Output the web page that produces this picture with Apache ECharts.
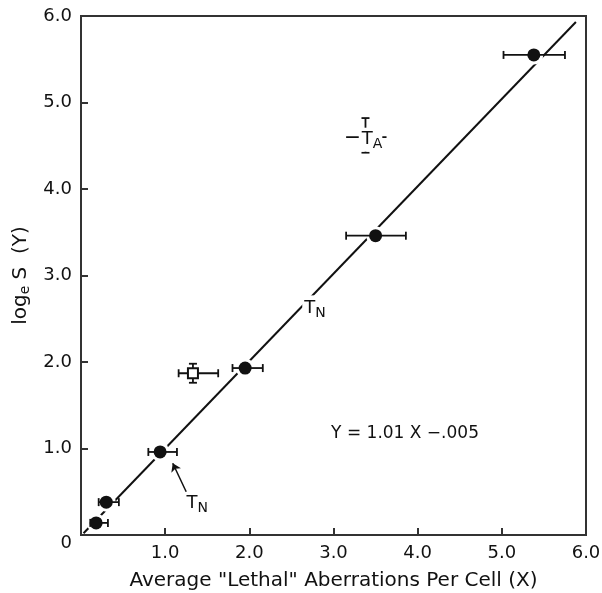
<!DOCTYPE html>
<html>
<head>
<meta charset="utf-8">
<script src="https://cdn.jsdelivr.net/npm/echarts@6/dist/echarts.min.js"></script>
<style>
  html, body { margin: 0; padding: 0; background: #fff; }
  #main { width: 602px; height: 593px; }
</style>
</head>
<body>
<div id="main"></div>
<script>
// 观测点 (实心圆) 及横向误差
var ptX   = [0.18, 0.30, 0.94, 1.95, 3.50, 5.38];
var ptY   = [0.14, 0.38, 0.96, 1.93, 3.46, 5.55];
var ptXLo = [0.11, 0.21, 0.80, 1.80, 3.15, 5.02];
var ptXHi = [0.32, 0.45, 1.14, 2.16, 3.86, 5.75];

// 空心方块
var sqX = [1.33], sqY = [1.87];
var sqXLo = [1.16], sqXHi = [1.63];
var sqYLo = [1.76], sqYHi = [1.98];

// T_A 点
var taX = [3.38], taY = [4.60];
var taXLo = [3.15], taXHi = [3.63];
var taYLo = [4.42], taYHi = [4.82];

// 回归线 Y = 1.01X - .005
var fitX = [0.03, 5.88];
var fitY = [0.02, 5.93];

// 刻度标签
var tickVals = [0, 1, 2, 3, 4, 5, 6];
var tickText = ['0', '1.0', '2.0', '3.0', '4.0', '5.0', '6.0'];

var FONT = 'DejaVu Sans';
var INK = '#111';

function zip(a, b) {
    var out = [];
    for (var i = 0; i < a.length; i++) out.push([a[i], b[i]]);
    return out;
}

// 误差线: horiz 横向, capsX 横向端帽, vert 纵向(带端帽)
function errBars(horiz, capsX, vert) {
    return function (params, api) {
        var c = api.coord([api.value(0), api.value(1)]);
        var st = { stroke: INK, lineWidth: 1.8 };
        var h = 4;
        var kids = [];
        if (horiz) {
            var lo = api.coord([api.value(2), api.value(1)]);
            var hi = api.coord([api.value(3), api.value(1)]);
            kids.push({ type: 'line', shape: { x1: lo[0], y1: c[1], x2: hi[0], y2: c[1] }, style: st });
            if (capsX) {
                kids.push({ type: 'line', shape: { x1: lo[0], y1: c[1] - h, x2: lo[0], y2: c[1] + h }, style: st });
                kids.push({ type: 'line', shape: { x1: hi[0], y1: c[1] - h, x2: hi[0], y2: c[1] + h }, style: st });
            }
        }
        if (vert) {
            var yl = api.coord([api.value(0), api.value(4)]);
            var yh = api.coord([api.value(0), api.value(5)]);
            kids.push({ type: 'line', shape: { x1: c[0], y1: yl[1], x2: c[0], y2: yh[1] }, style: st });
            kids.push({ type: 'line', shape: { x1: c[0] - h, y1: yl[1], x2: c[0] + h, y2: yl[1] }, style: st });
            kids.push({ type: 'line', shape: { x1: c[0] - h, y1: yh[1], x2: c[0] + h, y2: yh[1] }, style: st });
        }
        return { type: 'group', children: kids };
    };
}

var ptErr = [];
for (var i = 0; i < ptX.length; i++) ptErr.push([ptX[i], ptY[i], ptXLo[i], ptXHi[i]]);
var sqErr = [[sqX[0], sqY[0], sqXLo[0], sqXHi[0], sqYLo[0], sqYHi[0]]];
var taErr = [[taX[0], taY[0], taXLo[0], taXHi[0], taYLo[0], taYHi[0]]];

var labelRich = {
    t: { fontFamily: FONT, fontSize: 18, color: INK },
    s: { fontFamily: FONT, fontSize: 14, color: INK, padding: [10, 0, 0, 0] },
    q: { fontFamily: FONT, fontSize: 17, color: INK }
};

var chart = echarts.init(document.getElementById('main'));
var option = {
    animation: false,
    backgroundColor: '#fff',
    grid: {
        left: 81, right: 16, top: 16, bottom: 58,
        outerBoundsMode: 'none',
        show: true, borderColor: '#333', borderWidth: 2, backgroundColor: 'transparent'
    },
    xAxis: {
        type: 'value', min: 0, max: 6, interval: 1,
        name: 'Average "Lethal" Aberrations Per Cell (X)',
        nameLocation: 'middle', nameGap: 36,
        nameTextStyle: { fontFamily: FONT, fontSize: 20, color: INK },
        axisLine: { lineStyle: { color: '#333', width: 2 } },
        axisTick: { inside: true, length: 7, lineStyle: { color: '#333', width: 2 } },
        splitLine: { show: false },
        axisLabel: {
            fontFamily: FONT, fontSize: 18, color: INK, margin: 9,
            formatter: function (v) { return v === 0 ? '' : tickText[tickVals.indexOf(v)]; }
        }
    },
    yAxis: {
        type: 'value', min: 0, max: 6, interval: 1,
        name: 'log{e|e} S  (Y)',
        nameLocation: 'middle', nameGap: 37,
        nameTextStyle: {
            fontFamily: FONT, fontSize: 20, color: INK,
            rich: { e: { fontFamily: FONT, fontSize: 14, color: INK, padding: [9, 0, 0, 0] } }
        },
        axisLine: { lineStyle: { color: '#333', width: 2 } },
        axisTick: { inside: true, length: 7, lineStyle: { color: '#333', width: 2 } },
        splitLine: { show: false },
        axisLabel: {
            fontFamily: FONT, fontSize: 18, color: INK, margin: 9,
            formatter: function (v) {
                return v === 0 ? '{z|0}' : tickText[tickVals.indexOf(v)];
            },
            rich: { z: { fontFamily: FONT, fontSize: 18, color: INK, padding: [16, 0, 0, 0] } }
        }
    },
    series: [
        {
            // 回归线 + T_N 箭头
            type: 'line', z: 2, symbol: 'none',
            data: zip(fitX, fitY),
            lineStyle: { color: INK, width: 2 },
            markLine: {
                silent: true, symbol: ['none', 'arrow'], symbolSize: 8,
                label: { show: false },
                lineStyle: { color: INK, width: 1.5, type: 'solid' },
                data: [[{ coord: [1.25, 0.50] }, { coord: [1.09, 0.83] }]]
            }
        },
        {
            // 点周围的白色间隙
            type: 'scatter', z: 3, symbol: 'circle', symbolSize: 19,
            itemStyle: { color: '#fff', opacity: 1 },
            data: zip(ptX, ptY)
        },
        { type: 'custom', z: 4, renderItem: errBars(true, true, false), data: ptErr },
        { type: 'custom', z: 4, renderItem: errBars(true, true, true), data: sqErr },
        { type: 'custom', z: 4, renderItem: errBars(true, false, true), data: taErr },
        {
            type: 'scatter', z: 5, symbol: 'circle', symbolSize: 13,
            itemStyle: { color: INK, opacity: 1 },
            data: zip(ptX, ptY)
        },
        {
            type: 'scatter', z: 5, symbol: 'rect', symbolSize: 10,
            itemStyle: { color: '#fff', borderColor: INK, borderWidth: 2, opacity: 1 },
            data: zip(sqX, sqY)
        },
        {
            // 文字标注
            type: 'scatter', z: 6, symbolSize: 0,
            itemStyle: { opacity: 1 },
            label: { show: true, position: 'inside', rich: labelRich },
            data: [
                { value: [2.78, 2.62], label: { formatter: '{t|T}{s|N}', backgroundColor: '#fff', padding: [1, 2] } },
                { value: [1.38, 0.37], label: { formatter: '{t|T}{s|N}' } },
                { value: [3.44, 4.57], label: { formatter: '{t|T}{s|A}', backgroundColor: '#fff', padding: [0, 0, 0, 3] } },
                { value: [3.85, 1.17], label: { formatter: '{q|Y = 1.01 X \u2212.005}' } }
            ]
        }
    ]
};
chart.setOption(option);
</script>
</body>
</html>
